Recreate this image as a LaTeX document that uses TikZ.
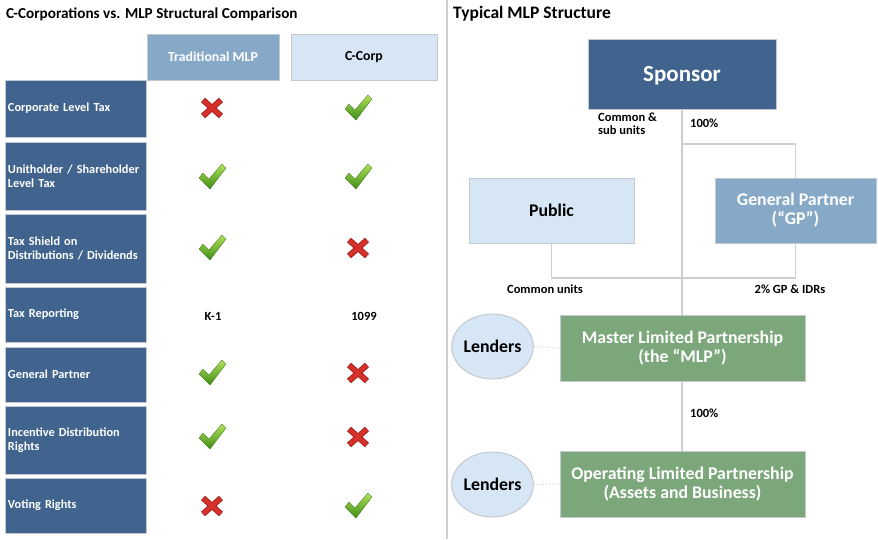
\documentclass[tikz,border=0pt]{standalone}
\usepackage{fontspec}
\setmainfont{Carlito}
\usetikzlibrary{shapes.geometric}

\definecolor{navy}{HTML}{41648F}
\definecolor{steel}{HTML}{86A9C8}
\definecolor{pale}{HTML}{D6E6F4}
\definecolor{sage}{HTML}{7BA77B}
\definecolor{wire}{HTML}{CFCFCF}
\definecolor{rim}{HTML}{C4C9CF}
\definecolor{tickhi}{HTML}{B4E05A}
\definecolor{ticklo}{HTML}{3C8C16}
\definecolor{crossred}{HTML}{D6302B}
\definecolor{crossdark}{HTML}{A21D1A}

\tikzset{
  box/.style={draw=rim, line width=1pt, inner sep=2pt, font=\bfseries},
  rowbox/.style={box, fill=navy, text=white, minimum width=140pt,
    text width=136pt, align=left, inner xsep=2.5pt,
    font=\bfseries\fontsize{12.3}{14}\selectfont},
  hdr/.style={box, minimum width=#1, minimum height=46pt,
    font=\bfseries\fontsize{13.8}{16}\selectfont},
  orgbox/.style={box, align=center, font=\bfseries\fontsize{17.8}{19}\selectfont},
  lender/.style={ellipse, draw=rim, line width=1pt, fill=pale,
    minimum width=81pt, minimum height=65pt, inner sep=0pt,
    font=\bfseries\fontsize{17.8}{19}\selectfont},
  link/.style={draw=wire, line width=1.3pt},
  dots/.style={draw=wire, line width=1pt, dotted},
  tag/.style={font=\bfseries\fontsize{12.5}{13}\selectfont, inner sep=0pt},
  cell/.style={font=\bfseries\fontsize{12.5}{14}\selectfont, inner sep=0pt},
  title/.style={inner sep=0pt, anchor=base west},
  tick/.pic={
    \shade[top color=tickhi, bottom color=ticklo, draw=ticklo!80!black, line width=0.3pt]
      (-13,1) -- (-9,-4) -- (-3,2) -- (10,-13) -- (14,-9) -- (-2,12) -- cycle;
  },
  cross/.pic={
    \draw[crossdark, line width=6pt] (-9,-8) -- (9,8) (-9,8) -- (9,-8);
    \draw[crossred, line width=4.2pt] (-8.5,-7.5) -- (8.5,7.5) (-8.5,7.5) -- (8.5,-7.5);
  }
}

\begin{document}
\begin{tikzpicture}[x=1pt, y=-1pt]
\useasboundingbox[fill=white] (0,0) rectangle (878,539);

% panel divider
\draw[draw=wire, line width=1.6pt] (447,0) -- (447,539);

% ---------- comparison table ----------
\node[title, font=\bfseries\fontsize{15.2}{17}\selectfont] (ltitle) at (6,18)
  {C-Corporations vs. MLP Structural Comparison};

\node[hdr=132pt, fill=steel, text=white] (hmlp) at (213,57) {Traditional MLP};
\node[hdr=146pt, fill=pale] (hcorp) at (364,57) {C-Corp};

\node[rowbox, minimum height=57pt] (r1) at (76,108.5) {Corporate Level Tax};
\node[rowbox, minimum height=68pt] (r2) at (76,176) {Unitholder / Shareholder\\Level Tax};
\node[rowbox, minimum height=69pt] (r3) at (76,248.5) {Tax Shield on\\Distributions / Dividends};
\node[rowbox, minimum height=55pt] (r4) at (76,314.5) {Tax Reporting};
\node[rowbox, minimum height=55pt] (r5) at (76,374.5) {General Partner};
\node[rowbox, minimum height=68pt] (r6) at (76,440) {Incentive Distribution\\Rights};
\node[rowbox, minimum height=55pt] (r7) at (76,505.5) {Voting Rights};

\pic (m1a) at (212,108) {cross};  \pic (m1b) at (358,108) {tick};
\pic (m2a) at (212,177) {tick};   \pic (m2b) at (358,177) {tick};
\pic (m3a) at (212,248) {tick};   \pic (m3b) at (358,248) {cross};
\node[cell] (m4a) at (213,316) {K-1};
\node[cell] (m4b) at (364,316) {1099};
\pic (m5a) at (212,373) {tick};   \pic (m5b) at (358,373) {cross};
\pic (m6a) at (212,437) {tick};   \pic (m6b) at (358,437) {cross};
\pic (m7a) at (212,506) {cross};  \pic (m7b) at (358,506) {tick};

% ---------- MLP structure ----------
\node[title, font=\bfseries\fontsize{17.5}{19}\selectfont] (rtitle) at (453,18)
  {Typical MLP Structure};

\coordinate (jt) at (682,144);
\coordinate (jb) at (682,278);

% ownership connectors, drawn first so the boxes cover them
\path[link] (jt) -| (795.5,178);
\path[link] (795.5,243) |- (jb) -| (551.5,243);
\path[link] (682,109) -- (682,315);
\path[link] (682,381) -- (682,451);

\node[box, fill=navy, text=white, minimum width=188pt, minimum height=70pt,
      text depth=0pt, font=\bfseries\fontsize{23}{24}\selectfont] (sponsor) at (682,74) {Sponsor};
\node[orgbox, fill=pale, minimum width=165pt, minimum height=65pt] (public) at (551.5,210.5) {Public};
\node[orgbox, fill=steel, text=white, minimum width=161pt, minimum height=65pt] (gp) at (795.5,210.5) {General Partner\\(“GP”)};
\node[orgbox, fill=sage, text=white, minimum width=245pt, minimum height=66pt] (mlp) at (682.5,348) {Master Limited Partnership\\(the “MLP”)};
\node[orgbox, fill=sage, text=white, minimum width=245pt, minimum height=66pt] (olp) at (682.5,484) {Operating Limited Partnership\\(Assets and Business)};
\node[lender] (lend1) at (492.5,346.5) {Lenders};
\node[lender] (lend2) at (492.5,484.5) {Lenders};

\path[dots] (lend1.east) -- (mlp.west);
\path[dots] (lend2.east) -- (olp.west);

\node[tag, align=left, anchor=west] (subu) at (598,124) {Common \&\\sub units};
\node[tag, anchor=west] (pct1) at (690,123) {100\%};
\node[tag] (cu) at (545,289) {Common units};
\node[tag] (gpi) at (790,289) {2\% GP \& IDRs};
\node[tag, anchor=west] (pct2) at (690,413) {100\%};
\end{tikzpicture}
\end{document}
